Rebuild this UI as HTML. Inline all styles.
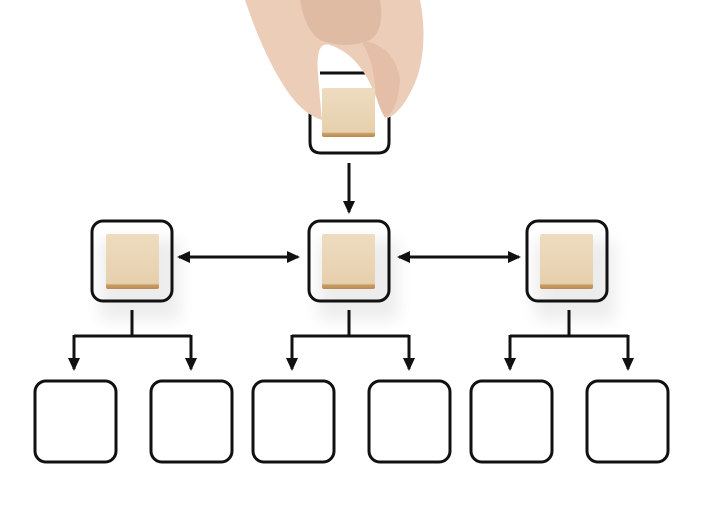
<!DOCTYPE html>
<html><head><meta charset="utf-8"><style>
html,body{margin:0;padding:0;background:#fff;width:722px;height:526px;overflow:hidden}
</style></head><body>
<svg width="722" height="526" viewBox="0 0 722 526" xmlns="http://www.w3.org/2000/svg">
<defs>
<linearGradient id="wood" x1="0" y1="0" x2="0" y2="1">
<stop offset="0" stop-color="#eedcc0"/><stop offset="0.9" stop-color="#e6d0ad"/><stop offset="0.93" stop-color="#c99d62"/><stop offset="1" stop-color="#b88b52"/>
</linearGradient>
<marker id="ah" markerWidth="13" markerHeight="12" refX="11" refY="6" orient="auto" markerUnits="userSpaceOnUse">
<path d="M0,0 L13,6 L0,12 Z" fill="#111"/>
</marker>
<filter id="sh" x="-50%" y="-50%" width="200%" height="200%"><feGaussianBlur stdDeviation="8"/></filter>
</defs>
<g fill="#000" opacity="0.07" filter="url(#sh)">
<rect x="100" y="240" width="80" height="80"/>
<rect x="318" y="240" width="80" height="80"/>
<rect x="535" y="240" width="80" height="80"/>
</g>
<g fill="none" stroke="#111" stroke-width="3">
<path d="M310,100 L310,142 Q310,153 321,153 L378,153 Q389,153 389,142 L389,100"/>
<line x1="320" y1="73" x2="376" y2="73"/>
<rect x="92" y="221" width="80" height="80" rx="11"/>
<rect x="309" y="221" width="80" height="80" rx="11"/>
<rect x="527" y="221" width="80" height="80" rx="11"/>
<rect x="35" y="381" width="81" height="81" rx="11"/>
<rect x="151" y="381" width="81" height="81" rx="11"/>
<rect x="253" y="381" width="81" height="81" rx="11"/>
<rect x="369" y="381" width="81" height="81" rx="11"/>
<rect x="471" y="381" width="81" height="81" rx="11"/>
<rect x="587" y="381" width="81" height="81" rx="11"/>
</g>
<g stroke="#111" stroke-width="3" fill="none">
<line x1="349" y1="163" x2="349" y2="212" marker-end="url(#ah)"/>
<line x1="190" y1="257" x2="298" y2="257" marker-end="url(#ah)"/>
<line x1="287" y1="257" x2="179" y2="257" marker-end="url(#ah)"/>
<line x1="410" y1="257" x2="519" y2="257" marker-end="url(#ah)"/>
<line x1="508" y1="257" x2="399" y2="257" marker-end="url(#ah)"/>
<path d="M132,310 L132,336 M74,336 L191,336"/>
<path d="M349,310 L349,336 M292,336 L409,336"/>
<path d="M569,310 L569,336 M510,336 L628,336"/>
<line x1="74" y1="335" x2="74" y2="369" marker-end="url(#ah)"/>
<line x1="191" y1="335" x2="191" y2="369" marker-end="url(#ah)"/>
<line x1="292" y1="335" x2="292" y2="369" marker-end="url(#ah)"/>
<line x1="409" y1="335" x2="409" y2="369" marker-end="url(#ah)"/>
<line x1="510" y1="335" x2="510" y2="369" marker-end="url(#ah)"/>
<line x1="628" y1="335" x2="628" y2="369" marker-end="url(#ah)"/>
</g>
<rect x="106" y="234" width="53" height="55" rx="2" fill="url(#wood)"/>
<rect x="322" y="234" width="53" height="55" rx="2" fill="url(#wood)"/>
<rect x="540" y="234" width="53" height="55" rx="2" fill="url(#wood)"/>
<!-- hand -->
<path d="M245,0 L420,0 Q428,40 418,75 Q405,110 388,118 L375,95 Q360,55 330,45 Q315,40 318,75 Q320,100 322,120 Q305,115 290,95 Q265,60 245,0 Z" fill="#eccdb8"/>
<path d="M300,0 L380,0 Q385,30 370,40 Q345,50 320,40 Q305,30 300,0 Z" fill="#e0bba4"/>
<path d="M360,40 Q395,45 400,80 Q398,110 385,118 Q375,100 375,85 Q372,55 360,40 Z" fill="#e4bea6"/>
<rect x="322" y="88" width="53" height="49" rx="2" fill="url(#wood)"/>
</svg>
</body></html>
